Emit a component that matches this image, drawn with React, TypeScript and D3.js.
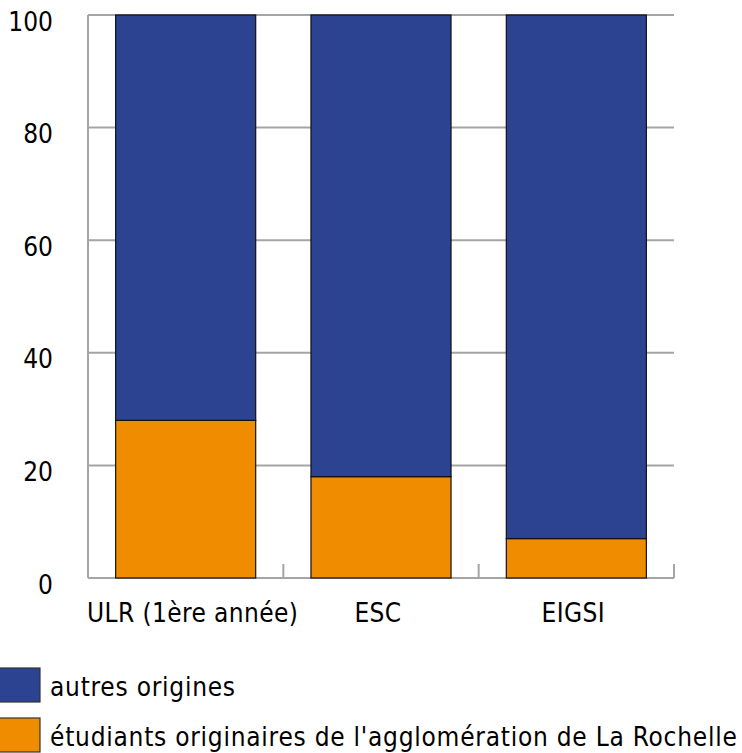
import React from "react";
import * as d3 from "d3";

const categories = ["ULR (1ère année)", "ESC", "EIGSI"];
const localStudents = [28, 18, 7];
const otherOrigins = [72, 82, 93];
const yTicks = [0, 20, 40, 60, 80, 100];
const seriesNames = ["autres origines", "étudiants originaires de l'agglomération de La Rochelle"];
const seriesColors = ["#2b4390", "#f08c00"];

export default function App() {
  const W = 742, H = 753;
  const left = 88, right = 674, top = 15, bottom = 578;
  const x = d3.scaleBand<string>().domain(categories).range([left, right]).padding(0);
  const y = d3.scaleLinear().domain([0, 100]).range([bottom, top]);
  const barW = x.bandwidth() * 0.717;
  const font = "'DejaVu Sans Condensed', 'DejaVu Sans', sans-serif";
  const grid = "#a5a5a5";
  const rows = categories.map((c, i) => ({ c, a: localStudents[i], b: otherOrigins[i] }));
  const stack = d3.stack<any>().keys(["a", "b"])(rows);

  return (
    <svg width={W} height={H} style={{ position: "absolute", left: 0, top: 0 }}>
      <rect width={W} height={H} fill="#fff" />
      {yTicks.map((t) => (
        <line key={t} x1={left} x2={right} y1={y(t)} y2={y(t)} stroke={grid} strokeWidth={2} />
      ))}
      <line x1={left} x2={left} y1={top} y2={bottom} stroke={grid} strokeWidth={2} />
      {categories.map((c) => (
        <line key={"t" + c} x1={x(c)! + x.bandwidth()} x2={x(c)! + x.bandwidth()} y1={bottom - 14} y2={bottom} stroke={grid} strokeWidth={2} />
      ))}
      {stack.map((s, si) =>
        s.map((d, i) => {
          const cx = x(categories[i])! + x.bandwidth() / 2;
          return (
            <rect
              key={si + "-" + i}
              x={cx - barW / 2}
              y={y(d[1])}
              width={barW}
              height={y(d[0]) - y(d[1])}
              fill={si === 0 ? seriesColors[1] : seriesColors[0]}
              stroke="#111"
              strokeWidth={1.2}
            />
          );
        })
      )}
      {yTicks.map((t) => (
        <text key={"l" + t} x={53} y={y(t) + 8} textAnchor="end" dominantBaseline="middle" fontFamily={font} fontSize={26} fill="#000">
          {t}
        </text>
      ))}
      {categories.map((c, i) => (
        <text key={"x" + c} x={x(c)! + x.bandwidth() / 2 + (i === 0 ? 7 : -3)} y={622} textAnchor="middle" fontFamily={font} fontSize={26} letterSpacing={0.4} fill="#000">
          {c}
        </text>
      ))}
      {seriesNames.map((n, i) => (
        <g key={n}>
          <rect x={-5} y={668 + i * 50} width={45} height={34} fill={seriesColors[i]} stroke="#333" strokeWidth={1.2} />
          <text x={50} y={696 + i * 50} fontFamily={font} fontSize={26} letterSpacing={0.75} fill="#000">
            {n}
          </text>
        </g>
      ))}
    </svg>
  );
}
